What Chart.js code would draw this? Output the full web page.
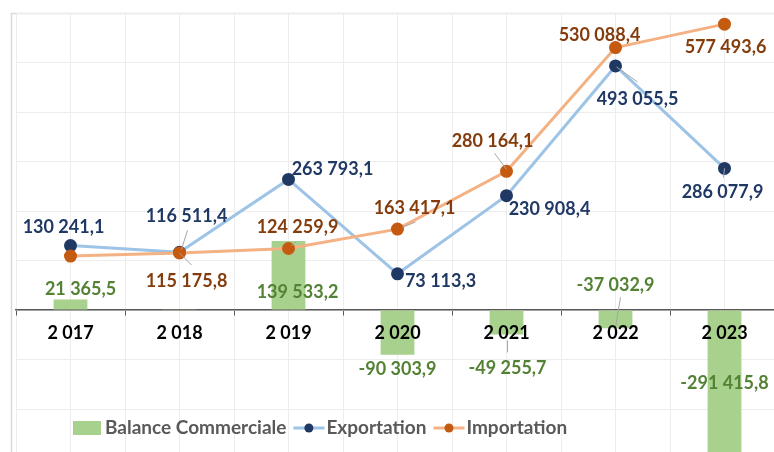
<!DOCTYPE html>
<html>
<head>
<meta charset="utf-8">
<script src="https://cdn.jsdelivr.net/npm/chart.js@4.4.1/dist/chart.umd.min.js"></script>
<style>
html, body { margin: 0; padding: 0; background: #fff; overflow: hidden; }
#cadre { position: relative; width: 774px; height: 452px; overflow: hidden; }
#graphique { position: absolute; left: 0; top: 0; }
</style>
</head>
<body>
<div id="cadre"><canvas id="graphique" width="800" height="480"></canvas></div>
<script>
// Données (en millions)
const annees = ['2 017', '2 018', '2 019', '2 020', '2 021', '2 022', '2 023'];
const balance = [21365.5, 1335.6, 139533.2, -90303.9, -49255.7, -37032.9, -291415.8];
const exportation = [130241.1, 116511.4, 263793.1, 73113.3, 230908.4, 493055.5, 286077.9];
const importation = [108875.6, 115175.8, 124259.9, 163417.1, 280164.1, 530088.4, 577493.6];

// Placement des étiquettes (décalage par rapport au point), null = pas d'étiquette
const posBalance = [[10, -10], null, [9, 51], [0, 14], [1, 34], [0, -43], [0, -71]];
const posExport = [[-7, -18], [7, -36], [44, -10], [43, 7], [43, 13], [22, 33], [-2, 24]];
const posImport = [null, [7, 28], [9, -21], [17, -21], [-14, -30], [-16, -12], [1, 23]];

// Lignes de rappel [x1, y1, x2, y2] relatives au point
const rappelBalance = [null, null, null, null, [1, 6, 1, 18], [5, -31, 0, -1], null];
const rappelExport = [null, [8, -22, 2, -3], null, null, null, [1, 1, 22, 16], [0, 0, -1, 9]];
const rappelImport = [null, [0, 0, 12, 12], [3, -3, 8, -7], [5, -2, 18, -7], [-12, -18, 0, -2], null, null];

const police = 'Lato, "Open Sans", sans-serif';

function formatFr(v) {
    const parts = Math.abs(v).toFixed(1).split('.');
    const entier = parts[0].replace(/\B(?=(\d{3})+(?!\d))/g, ' ');
    return (v < 0 ? '-' : '') + entier + ',' + parts[1];
}

// Plugin pour les étiquettes de données
const etiquettes = {
    id: 'etiquettes',
    afterDatasetsDraw(chart) {
        const ctx = chart.ctx;
        chart.data.datasets.forEach((ds, i) => {
            const meta = chart.getDatasetMeta(i);
            meta.data.forEach((el, j) => {
                const p = ds.positions[j];
                if (!p) return;
                const r = ds.rappels[j];
                ctx.save();
                if (r) {
                    ctx.strokeStyle = '#a6a6a6';
                    ctx.lineWidth = 1;
                    ctx.beginPath();
                    ctx.moveTo(el.x + r[0], el.y + r[1]);
                    ctx.lineTo(el.x + r[2], el.y + r[3]);
                    ctx.stroke();
                }
                ctx.font = 'bold 18px ' + police;
                ctx.fillStyle = ds.couleurTexte;
                ctx.textAlign = 'center';
                ctx.textBaseline = 'middle';
                ctx.fillText(formatFr(ds.data[j]), el.x + p[0], el.y + p[1]);
                ctx.restore();
            });
        });
    }
};

// Plugin pour le cadre et la légende
const legendeCadre = {
    id: 'legendeCadre',
    beforeDraw(chart) {
        const ctx = chart.ctx;
        ctx.save();
        ctx.strokeStyle = '#d9d9d9';
        ctx.lineWidth = 1.5;
        ctx.beginPath();
        ctx.moveTo(11.5, 500);
        ctx.lineTo(11.5, 13.5);
        ctx.lineTo(800, 13.5);
        ctx.stroke();
        ctx.restore();
    },
    afterDraw(chart) {
        const ctx = chart.ctx;
        const ds = chart.data.datasets;
        const y = 428;
        ctx.save();
        ctx.font = 'bold 19px ' + police;
        ctx.textBaseline = 'middle';
        // Balance
        ctx.fillStyle = ds[0].backgroundColor;
        ctx.fillRect(73, y - 7, 28, 14);
        ctx.fillStyle = '#595959';
        ctx.fillText(ds[0].label, 105, y);
        let x = 105 + ctx.measureText(ds[0].label).width + 7;
        [ds[1], ds[2]].forEach(d => {
            ctx.strokeStyle = d.borderColor;
            ctx.lineWidth = 3;
            ctx.beginPath();
            ctx.moveTo(x, y);
            ctx.lineTo(x + 31, y);
            ctx.stroke();
            ctx.fillStyle = d.pointBackgroundColor;
            ctx.beginPath();
            ctx.arc(x + 15.5, y, 4.5, 0, Math.PI * 2);
            ctx.fill();
            ctx.fillStyle = '#595959';
            ctx.fillText(d.label, x + 33, y);
            x += 33 + ctx.measureText(d.label).width + 7;
        });
        ctx.restore();
    }
};

new Chart(document.getElementById('graphique'), {
    data: {
        labels: annees,
        datasets: [
            {
                type: 'bar',
                label: 'Balance Commerciale',
                data: balance,
                backgroundColor: '#a9d18e',
                categoryPercentage: 1,
                barPercentage: 0.31,
                order: 3,
                positions: posBalance,
                rappels: rappelBalance,
                couleurTexte: '#548235'
            },
            {
                type: 'line',
                label: 'Exportation',
                data: exportation,
                borderColor: '#9dc3e6',
                borderWidth: 3,
                pointBackgroundColor: '#203864',
                pointBorderColor: '#203864',
                pointRadius: 5,
                tension: 0,
                order: 2,
                positions: posExport,
                rappels: rappelExport,
                couleurTexte: '#203864'
            },
            {
                type: 'line',
                label: 'Importation',
                data: importation,
                borderColor: '#f4b183',
                borderWidth: 3,
                pointBackgroundColor: '#c55a11',
                pointBorderColor: '#c55a11',
                pointRadius: 5,
                tension: 0,
                order: 1,
                positions: posImport,
                rappels: rappelImport,
                couleurTexte: '#843c0c'
            }
        ]
    },
    options: {
        responsive: false,
        animation: false,
        layout: { padding: { left: 16, top: 13, right: 21, bottom: 21.5 } },
        plugins: {
            legend: { display: false },
            tooltip: { enabled: false }
        },
        scales: {
            x: {
                position: { y: 0 },
                offset: true,
                grid: { offset: true, color: '#ededed', tickColor: '#595959', tickLength: 5 },
                border: { color: '#595959', width: 1.5 },
                ticks: { z: 1, color: '#000', padding: 7, font: { family: police, size: 18, weight: 'bold' } },
                afterFit: s => { s.height = 0; }
            },
            x2: {
                type: 'category',
                position: { y: 0 },
                offset: true,
                grid: { offset: false, color: '#ededed', drawTicks: false },
                border: { display: false },
                ticks: { display: false },
                afterFit: s => { s.height = 0; }
            },
            y: {
                min: -300000,
                max: 600000,
                ticks: { display: false, stepSize: 100000 },
                grid: { color: '#ededed', drawTicks: false },
                border: { display: false },
                afterFit: s => { s.width = 0; }
            }
        }
    },
    plugins: [legendeCadre, etiquettes]
});
</script>
</body>
</html>
